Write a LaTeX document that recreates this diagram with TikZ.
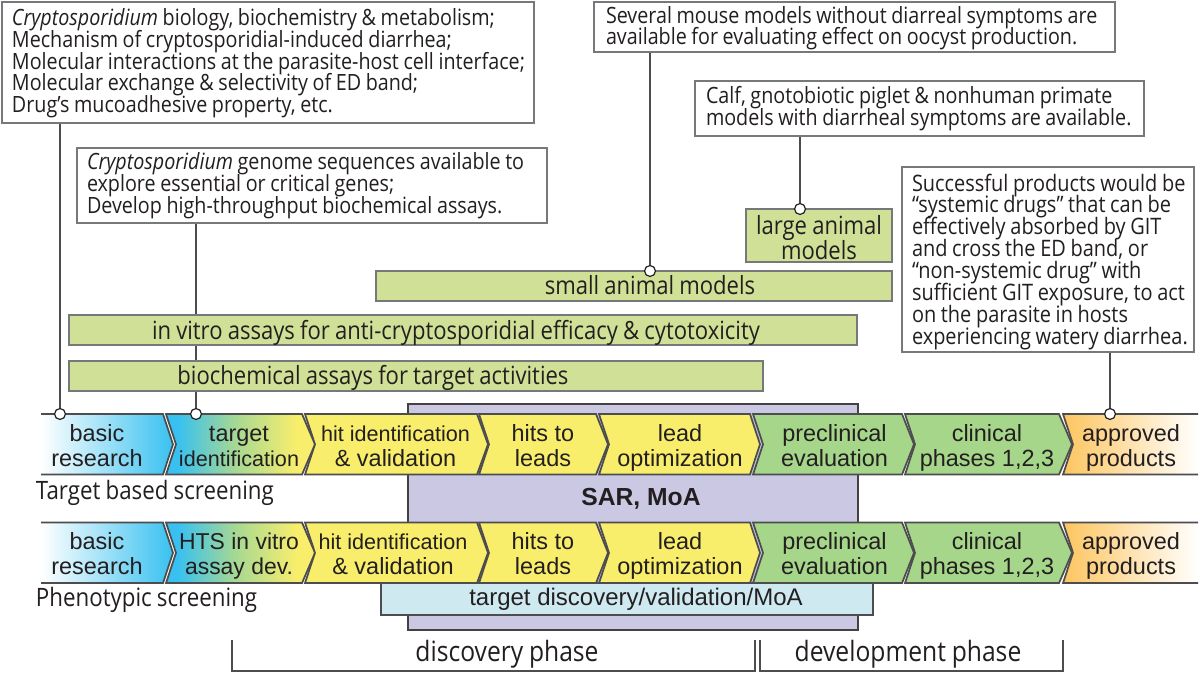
\documentclass[tikz,border=0pt]{standalone}
\usepackage{fontspec}
\setmainfont{Open Sans}[FakeStretch=0.88,WordSpace=0.9]
\newfontfamily\arialf{Liberation Sans}
\pgfdeclarelayer{under}
\pgfsetlayers{under,main}
\newcommand\tightlines{\lineskiplimit=-20pt\relax}
\definecolor{ink}{HTML}{231F20}
\definecolor{edge}{HTML}{4D4D4F}
\definecolor{boxedge}{HTML}{77787B}
\definecolor{barfill}{HTML}{D0E197}
\definecolor{sarfill}{HTML}{CBC8E4}
\definecolor{cyanfill}{HTML}{CFE9F1}
\definecolor{cblue}{HTML}{38C1F0}
\definecolor{cmid}{HTML}{A5D894}
\definecolor{cyel}{HTML}{F9EE6B}
\definecolor{cgrn}{HTML}{A5D68A}
\definecolor{corg}{HTML}{FDC55F}
\pgfdeclarehorizontalshading{cyfade}{100bp}{color(0bp)=(cblue); color(29bp)=(cblue); color(48bp)=(cmid); color(69bp)=(cyel); color(100bp)=(cyel)}
\newcommand\bigch{\fontsize{17.6}{18.75}\selectfont\arialf}
\newcommand\smch{\fontsize{16.2}{18.75}\selectfont\arialf}
\newcommand\medch{\fontsize{17.2}{18.75}\selectfont\arialf}
\tikzset{
  sz/.style 2 args={minimum width=#1*0.75pt,minimum height=#2*0.75pt},
  nosep/.style={inner sep=0pt,outer sep=0pt},
  txtbox/.style={draw=boxedge,line width=1pt,fill=white,nosep,anchor=north west},
  bartxt/.style={nosep,text=ink,anchor=base,font=\fontsize{18.8}{18.75}\selectfont\tightlines},
  bar/.style={draw=boxedge,line width=1pt,fill=barfill,nosep,anchor=north west},
  para/.style={nosep,anchor=west,align=left,text=ink,font=\fontsize{16.8}{16.4}\selectfont\tightlines},
  conn/.style={draw=edge,line width=1.1pt},
  dot/.style={circle,draw=ink,line width=0.9pt,fill=white,minimum size=8.2pt,nosep},
  edgeline/.style={draw=edge,line width=1.3pt,line join=miter},
  chtext/.style={nosep,text=ink,align=center},
  sblue/.style={left color=white,right color=cblue},
  scy/.style={shading=cyfade},
  syel/.style={fill=cyel},
  sgrn/.style={fill=cgrn},
  sorg/.style={left color=corg,right color=white},
  sidelabel/.style={nosep,anchor=base west,text=ink,font=\fontsize{19}{20}\selectfont},
  phaselabel/.style={nosep,anchor=base,text=ink,font=\fontsize{21}{22}\selectfont},
}
% name,x1,x2,tip,y,shade,cx,font,text
\newcommand\chfirst[9]{%
  \path[#6] (#2,#5) -- (#3,#5) -- (#4,#5+30.3) -- (#3,#5+60.6) -- (#2,#5+60.6) -- cycle;
  \draw[edgeline] (#2,#5) -- (#3,#5) -- (#4,#5+30.3) -- (#3,#5+60.6) -- (#2,#5+60.6);
  \node[chtext,font=#8] (#1) at (#7,#5+34.8) {\strut #9\strut};}
\newcommand\chmid[9]{%
  \path[#6] (#2,#5) -- (#3,#5) -- (#4,#5+30.3) -- (#3,#5+60.6) -- (#2,#5+60.6) -- (#2+10,#5+30.3) -- cycle;
  \draw[edgeline] (#2,#5) -- (#3,#5) -- (#4,#5+30.3) -- (#3,#5+60.6) -- (#2,#5+60.6) -- (#2+10,#5+30.3) -- cycle;
  \node[chtext,font=#8] (#1) at (#7,#5+34.8) {\strut #9\strut};}
\newcommand\chlast[9]{%
  \path[#6] (#2,#5) -- (#3,#5) -- (#3,#5+60.6) -- (#2,#5+60.6) -- (#2+10,#5+30.3) -- cycle;
  \draw[edgeline] (#3,#5) -- (#2,#5) -- (#2+10,#5+30.3) -- (#2,#5+60.6) -- (#3,#5+60.6);
  \node[chtext,font=#8] (#1) at (#7,#5+34.8) {\strut #9\strut};}
\begin{document}
\begin{tikzpicture}[x=0.75pt,y=-0.75pt]
\useasboundingbox (0,0) rectangle (1200,673);
\begin{pgfonlayer}{under}
\fill[white] (0,0) rectangle (1200,673);
\end{pgfonlayer}
% purple block
\node[draw=ink!85,line width=1.5pt,fill=sarfill,nosep,anchor=north west,sz={450}{226}] (sar) at (408,404) {};
\node[nosep,anchor=base,text=ink,font=\fontsize{18.5}{20}\selectfont\arialf\bfseries] (sart) at (641,506) {SAR, MoA};
% text boxes
\node[txtbox,sz={532}{121}] (b1) at (2,2) {};
\node[para] (t1) at (12,63.9) {\strut\textit{Cryptosporidium} biology, biochemistry \& metabolism;\\Mechanism of cryptosporidial-induced diarrhea;\\Molecular interactions at the parasite-host cell interface;\\Molecular exchange \& selectivity of ED band;\\Drug’s mucoadhesive property, etc.\strut};
\node[txtbox,sz={470}{75}] (b2) at (77,148) {};
\node[para] (t2) at (87,186.2) {\strut\textit{Cryptosporidium} genome sequences available to\\explore essential or critical genes;\\Develop high-throughput biochemical assays.\strut};
\node[txtbox,sz={521}{50}] (b3) at (594,2) {};
\node[para] (t3) at (606,28.8) {\strut Several mouse models without diarreal symptoms are\\available for evaluating effect on oocyst production.\strut};
\node[txtbox,sz={449}{55}] (b4) at (695,81) {};
\node[para] (t4) at (706,109.6) {\strut Calf, gnotobiotic piglet \& nonhuman primate\\models with diarrheal symptoms are available.\strut};
\node[txtbox,sz={292}{185}] (b5) at (902,167) {};
\node[para,font=\fontsize{17}{16.4}\selectfont\tightlines] (t5) at (912,262.2) {\strut Successful products would be\\“systemic drugs” that can be\\effectively absorbed by GIT\\and cross the ED band, or\\“non-systemic drug” with\\sufficient GIT exposure, to act\\on the parasite in hosts\\experiencing watery diarrhea.\strut};
% bars
\node[bar,sz={146}{53}] (large) at (746,209) {};
\node[bartxt,anchor=center,align=center] (larget) at (819,241.5) {\strut large animal\\models\strut};
\node[bar,sz={516}{30}] (small) at (376,271) {};
\node[bartxt] (smallt) at (650,295) {small animal models};
\node[bar,sz={788}{30}] (vitro) at (69,315) {};
\node[bartxt] (vitrot) at (456,339.5) {in vitro assays for anti-cryptosporidial efficacy \& cytotoxicity};
\node[bar,sz={694}{30}] (bio) at (69,361) {};
\node[bartxt] (biot) at (373,385) {biochemical assays for target activities};
% cyan block
\node[draw=edge,line width=1.3pt,fill=cyanfill,nosep,anchor=north west,sz={492}{32}] (cy) at (381,583) {};
\node[nosep,anchor=base,text=ink,font=\fontsize{18}{20}\selectfont\arialf] (cyt) at (636,605) {target discovery/validation/MoA};
% top row
\chfirst{a1}{41}{163}{173}{414}{sblue}{97}{\bigch}{basic\\research}
\chmid{a2}{166}{302}{315}{414}{scy}{239}{\smch}{{\bigch target}\\identification}
\chmid{a3}{305}{477}{488}{414}{syel}{395.5}{\bigch}{{\smch hit identification}\\\& validation}
\chmid{a4}{479}{596}{608}{414}{syel}{543}{\bigch}{hits to\\leads}
\chmid{a5}{599}{750}{760}{414}{syel}{680}{\bigch}{lead\\optimization}
\chmid{a6}{753}{902}{914}{414}{sgrn}{834.5}{\bigch}{preclinical\\evaluation}
\chmid{a7}{905}{1059}{1072}{414}{sgrn}{987}{\bigch}{clinical\\phases 1,2,3}
\chlast{a8}{1063}{1198}{0}{414}{sorg}{1131}{\bigch}{approved\\products}
% bottom row
\chfirst{c1}{41}{163}{173}{522.5}{sblue}{97}{\bigch}{basic\\research}
\chmid{c2}{166}{302}{315}{522.5}{scy}{239}{\medch}{HTS in vitro\\assay dev.}
\chmid{c3}{305}{477}{488}{522.5}{syel}{393}{\bigch}{{\smch hit identification}\\\& validation}
\chmid{c4}{479}{596}{608}{522.5}{syel}{543}{\bigch}{hits to\\leads}
\chmid{c5}{599}{750}{760}{522.5}{syel}{680}{\bigch}{lead\\optimization}
\chmid{c6}{753}{902}{914}{522.5}{sgrn}{834.5}{\bigch}{preclinical\\evaluation}
\chmid{c7}{905}{1059}{1072}{522.5}{sgrn}{987}{\bigch}{clinical\\phases 1,2,3}
\chlast{c8}{1063}{1198}{0}{522.5}{sorg}{1131}{\bigch}{approved\\products}
% labels
\node[sidelabel] (tbs) at (36,499.5) {Target based screening};
\node[sidelabel] (pts) at (36,606.5) {Phenotypic screening};
% phase brackets
\coordinate (p1) at (232,640); \coordinate (p2) at (755,640);
\coordinate (p3) at (760,640); \coordinate (p4) at (1063,640);
\draw[edgeline] (p1) -- ++(0,31) -- ([yshift=-31*0.75pt]p2) -- (p2);
\draw[edgeline] (p3) -- ++(0,31) -- ([yshift=-31*0.75pt]p4) -- (p4);
\node[phaselabel] (dp) at (507,661) {discovery phase};
\node[phaselabel] (vp) at (908,661) {development phase};
% connector dots
\node[dot] (d1) at (60,414) {};
\node[dot] (d2) at (196,414) {};
\node[dot] (d3) at (650,271) {};
\node[dot] (d4) at (800,209) {};
\node[dot] (d5) at (1110,414) {};
\begin{pgfonlayer}{under}
\draw[conn] (b1.south -| d1) -- (d1);
\draw[conn] (b2.south -| d2) -- (d2);
\draw[conn] (b3.south -| d3) -- (d3);
\draw[conn] (b4.south -| d4) -- (d4);
\draw[conn] (b5.south -| d5) -- (d5);
\end{pgfonlayer}
\end{tikzpicture}
\end{document}
